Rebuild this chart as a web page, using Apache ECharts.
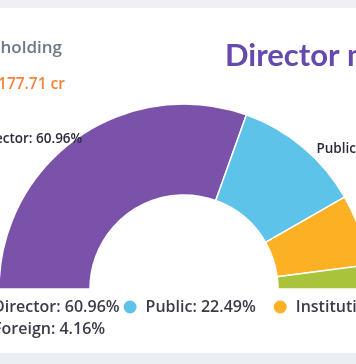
<!DOCTYPE html>
<html>
<head>
<meta charset="utf-8">
<script src="https://cdn.jsdelivr.net/npm/echarts@6/dist/echarts.min.js"></script>
<style>
html,body{margin:0;padding:0;background:#fff;}
#chart{width:356px;height:364px;}
</style>
</head>
<body>
<div id="chart"></div>
<script>
const categories = ['Director', 'Public', 'Institutional', 'Foreign'];
const shareValues = [60.96, 22.49, 12.39, 4.16];
const sliceColors = ['#7a52aa', '#5ec3e9', '#fcb024', '#a9c33b'];
const headerLabel = 'Shareholding';
const headerValue = '₹177.71 cr';
const titleText = 'Director majority';

const chart = echarts.init(document.getElementById('chart'));
const pieData = categories.map((c, i) => ({ name: c, value: shareValues[i], itemStyle: { color: sliceColors[i] } }));

chart.setOption({
  animation: false,
  backgroundColor: '#ffffff',
  graphic: [
    { type: 'rect', shape: { x: 0, y: 0, width: 356, height: 8 }, style: { fill: '#eef0f4' }, silent: true },
    { type: 'rect', shape: { x: 0, y: 353, width: 356, height: 11 }, style: { fill: '#ebeef2' }, silent: true },
    { type: 'text', right: 294, top: 40, style: { text: headerLabel, fill: '#6d7886', font: '600 17px "Open Sans"' } },
    { type: 'text', right: 291, top: 77, style: { text: headerValue, fill: '#f7823a', font: '600 15.5px "Open Sans"' } },
    { type: 'text', left: 225, top: 40, style: { text: titleText, fill: '#6549ad', font: '700 31px Lato' } }
  ],
  legend: {
    left: -36,
    top: 292,
    width: 540,
    icon: 'circle',
    itemWidth: 15,
    itemHeight: 15,
    itemGap: 2,
    textStyle: { fontSize: 16, fontWeight: 600, color: '#3b3b4a', fontFamily: '"Open Sans"', lineHeight: 20, padding: [0, 0, 0, 3] },
    formatter: function (name) {
      const i = categories.indexOf(name);
      return name + ': ' + shareValues[i].toFixed(2) + '%';
    },
    data: [
      { name: 'Director' },
      { name: 'Public', textStyle: { padding: [0, 14, 0, 3] } },
      { name: 'Institutional' },
      { name: 'Foreign' }
    ]
  },
  series: [{
    type: 'pie',
    center: [184, 289],
    radius: [94, 185],
    startAngle: 180,
    endAngle: 0,
    avoidLabelOverlap: false,
    itemStyle: { borderColor: '#ffffff', borderWidth: 1.5 },
    label: {
      show: true,
      position: 'outside',
      formatter: '{b}: {d}%',
      color: '#2a2a3c',
      fontSize: 13.5,
      fontWeight: 600,
      fontFamily: '"Open Sans"'
    },
    labelLine: { show: false, length: 4, length2: 4 },
    labelLayout: function (p) {
      return p.dataIndex === 0 ? { dx: 16, dy: 5 } : { dx: 2, dy: 5 };
    },
    data: pieData
  }]
});
</script>
</body>
</html>
